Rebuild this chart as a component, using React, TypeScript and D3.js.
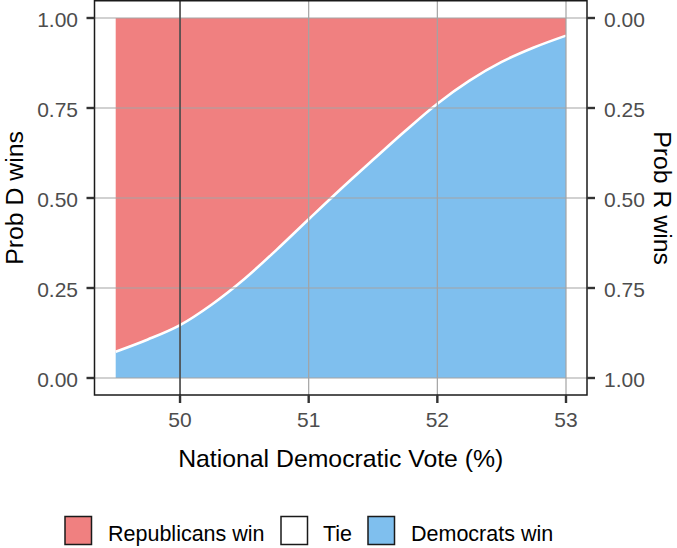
import React from "react";
import * as d3 from "d3";

const voteShare = [49.5, 49.75, 50.0, 50.25, 50.5, 50.75, 51.0, 51.25, 51.5, 51.75, 52.0, 52.25, 52.5, 52.75, 53.0];
const probDemWin = [0.073, 0.107, 0.147, 0.205, 0.275, 0.356, 0.441, 0.525, 0.606, 0.686, 0.762, 0.826, 0.878, 0.918, 0.951];
const xTicks = [50, 51, 52, 53];
const yTicks = [0, 0.25, 0.5, 0.75, 1];
const legendLabels = ["Republicans win", "Tie", "Democrats win"];
const legendColors = ["#F08080", "#FFFFFF", "#7FBFEE"];
const referenceVote = 50;

const W = 677;
const H = 548;
const panel = { left: 94.5, right: 587, top: 0.75, bottom: 395 };
const FONT = "'Liberation Sans', Arial, Helvetica, sans-serif";

export default function App() {
  const x = d3.scaleLinear().domain([49.5, 53]).range([115.7, 566]);
  const y = d3.scaleLinear().domain([0, 1]).range([378, 18]);
  const data = voteShare.map((v, i) => ({ v, p: probDemWin[i] }));
  const curve = d3.curveCatmullRom.alpha(0.5);

  const demArea = d3
    .area<{ v: number; p: number }>()
    .x((d) => x(d.v))
    .y0(y(0))
    .y1((d) => y(d.p))
    .curve(curve)(data) as string;
  const repArea = d3
    .area<{ v: number; p: number }>()
    .x((d) => x(d.v))
    .y0((d) => y(d.p))
    .y1(y(1))
    .curve(curve)(data) as string;
  const tieLine = d3
    .line<{ v: number; p: number }>()
    .x((d) => x(d.v))
    .y((d) => y(d.p))
    .curve(curve)(data) as string;

  const fmt = d3.format(".2f");
  const legendItems = [
    { box: 65, text: 108 },
    { box: 281, text: 323 },
    { box: 368, text: 411 },
  ];

  return (
    <svg
      width={W}
      height={H}
      style={{ position: "absolute", left: 0, top: 0, background: "#fff", display: "block" }}
      fontFamily={FONT}
    >
      <rect x={0} y={0} width={W} height={H} fill="#fff" />
      {/* areas */}
      <path d={repArea} fill={legendColors[0]} />
      <path d={demArea} fill={legendColors[2]} />
      <path d={tieLine} fill="none" stroke="#fff" strokeWidth={2.6} />
      {/* grid */}
      {yTicks.map((t) => (
        <line key={"gy" + t} x1={panel.left} x2={panel.right} y1={y(t)} y2={y(t)} stroke="#A3A3A3" strokeWidth={1.2} />
      ))}
      {xTicks.map((t) => (
        <line key={"gx" + t} x1={x(t)} x2={x(t)} y1={panel.top} y2={panel.bottom} stroke="#A3A3A3" strokeWidth={1.2} />
      ))}
      <line x1={x(referenceVote)} x2={x(referenceVote)} y1={panel.top} y2={panel.bottom} stroke="#333" strokeWidth={1.3} />
      {/* panel border */}
      <rect
        x={panel.left}
        y={panel.top}
        width={panel.right - panel.left}
        height={panel.bottom - panel.top}
        fill="none"
        stroke="#1a1a1a"
        strokeWidth={1.5}
      />
      {/* left axis */}
      {yTicks.map((t) => (
        <g key={"ly" + t}>
          <line x1={panel.left - 8} x2={panel.left} y1={y(t)} y2={y(t)} stroke="#333" strokeWidth={2.4} />
          <text x={78} y={y(t) + 1} textAnchor="end" dominantBaseline="central" fontSize={21} fill="#4D4D4D">
            {fmt(t)}
          </text>
        </g>
      ))}
      {/* right axis */}
      {yTicks.map((t) => (
        <g key={"ry" + t}>
          <line x1={panel.right} x2={panel.right + 8} y1={y(t)} y2={y(t)} stroke="#333" strokeWidth={2.4} />
          <text x={604} y={y(t) + 1} textAnchor="start" dominantBaseline="central" fontSize={21} fill="#4D4D4D">
            {fmt(1 - t)}
          </text>
        </g>
      ))}
      {/* x axis */}
      {xTicks.map((t) => (
        <g key={"x" + t}>
          <line x1={x(t)} x2={x(t)} y1={panel.bottom} y2={panel.bottom + 8} stroke="#333" strokeWidth={2.4} />
          <text x={x(t)} y={426.5} textAnchor="middle" fontSize={21} fill="#4D4D4D">
            {t}
          </text>
        </g>
      ))}
      {/* titles */}
      <text x={(panel.left + panel.right) / 2} y={467} textAnchor="middle" fontSize={24.8} fill="#000">
        National Democratic Vote (%)
      </text>
      <text
        transform={`translate(23, ${y(0.5)}) rotate(-90)`}
        textAnchor="middle"
        fontSize={24.8}
        fill="#000"
      >
        Prob D wins
      </text>
      <text
        transform={`translate(654, ${y(0.5)}) rotate(90)`}
        textAnchor="middle"
        fontSize={24.8}
        fill="#000"
      >
        Prob R wins
      </text>
      {/* legend */}
      {legendLabels.map((lab, i) => (
        <g key={lab}>
          <rect
            x={legendItems[i].box}
            y={516.5}
            width={26.5}
            height={28}
            fill={legendColors[i]}
            stroke="#1a1a1a"
            strokeWidth={1.5}
          />
          <text x={legendItems[i].text} y={541} fontSize={21.5} fill="#000">
            {lab}
          </text>
        </g>
      ))}
    </svg>
  );
}
